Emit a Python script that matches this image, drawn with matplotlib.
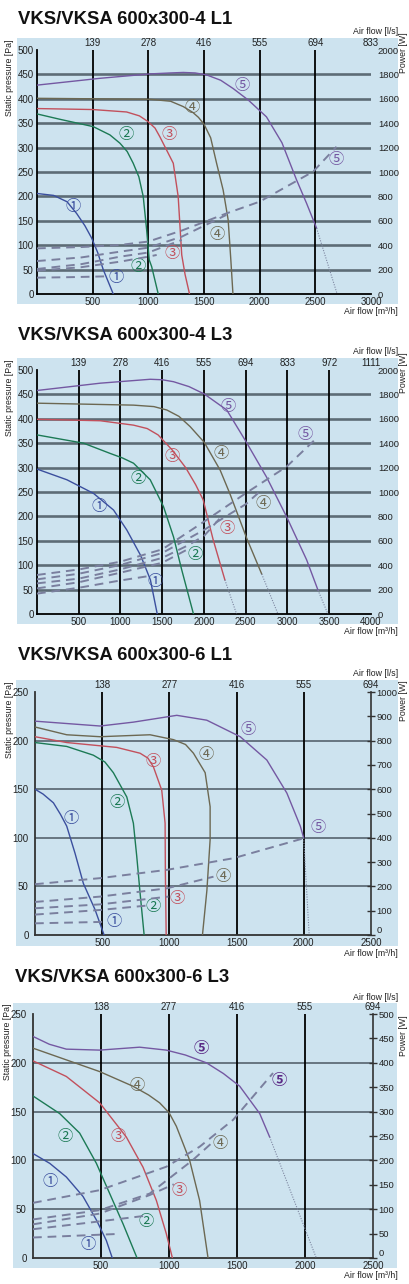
import matplotlib
matplotlib.use('Agg')
import matplotlib.pyplot as plt
from matplotlib.patches import Rectangle

plt.rcParams['font.family'] = ['Liberation Sans', 'Noto Sans CJK JP', 'DejaVu Sans']

W, H = 410, 1284
BG = '#cde3ef'
CURVE_COLORS = ['#3b4f9e', '#1c7a55', '#c2505c', '#6c6852', '#7458a2']
DASH_COLOR = '#7a7f9e'
MARKS = ['①', '②', '③', '④', '⑤']

# ---------------- VKS/VKSA 600x300-4 L1 ----------------
p1_title = 'VKS/VKSA 600x300-4 L1'
p1_q_ticks = [0, 500, 1000, 1500, 2000, 2500, 3000]
p1_ls_labels = ['139', '278', '416', '555', '694', '833']
p1_pa_ticks = list(range(0, 501, 50))
p1_w_ticks = list(range(0, 2001, 200))
p1_fan_q = [
    [0, 150, 270, 356, 430, 490, 545, 595, 685],
    [0, 206, 505, 655, 745, 810, 864, 915, 954, 985, 1008, 1030, 1089],
    [0, 500, 805, 920, 999, 1060, 1104, 1164, 1224, 1268, 1284, 1300, 1330, 1370],
    [0, 1014, 1200, 1314, 1400, 1450, 1500, 1560, 1613, 1672, 1717, 1741, 1760],
    [0, 566, 1014, 1200, 1314, 1420, 1523, 1650, 1762, 1900, 2061, 2200, 2331, 2421, 2511],
]
p1_fan_pa = [
    [206, 202, 189, 165, 140, 115, 85, 50, 0],
    [369, 358, 343, 326, 309, 292, 268, 240, 200, 131, 70, 56, 0],
    [380, 378, 373, 365, 353, 340, 322, 295, 268, 200, 140, 80, 40, 0],
    [401, 399, 395, 384, 372, 362, 348, 320, 268, 213, 152, 70, 0],
    [428, 442, 451, 453, 454, 453, 449, 438, 421, 397, 363, 310, 234, 186, 135],
]
p1_tail_q = [None, None, None, None, [2511, 2696]]
p1_tail_pa = [None, None, None, None, [135, 0]]
p1_pow_q = [
    [0, 300, 640],
    [0, 400, 745, 1000, 1075],
    [0, 400, 745, 1000, 1300],
    [0, 400, 745, 1000, 1300, 1700],
    [0, 400, 745, 1000, 1300, 1700, 2000, 2480, 2690],
]
p1_pow_w = [
    [134, 138, 145],
    [191, 220, 265, 306, 320],
    [205, 245, 306, 340, 443],
    [270, 300, 347, 380, 470, 648],
    [374, 385, 402, 430, 520, 660, 757, 1003, 1207],
]
p1_fan_marks = [(326, 179), (799, 327), (1188, 327), (1397, 382), (1846, 428)]
p1_pow_marks = [(715, 34), (904, 56), (1218, 82), (1619, 121), (2690, 275)]

# ---------------- VKS/VKSA 600x300-4 L3 ----------------
p2_title = 'VKS/VKSA 600x300-4 L3'
p2_q_ticks = [0, 500, 1000, 1500, 2000, 2500, 3000, 3500, 4000]
p2_ls_labels = ['139', '278', '416', '555', '694', '833', '972', '1111']
p2_pa_ticks = list(range(0, 501, 50))
p2_w_ticks = list(range(0, 2001, 200))
p2_fan_q = [
    [0, 359, 678, 917, 1076, 1238, 1300, 1358, 1440],
    [0, 558, 877, 1020, 1156, 1356, 1515, 1635, 1734, 1874],
    [0, 758, 1156, 1320, 1450, 1620, 1780, 1900, 1990, 2110, 2250],
    [0, 1156, 1400, 1555, 1700, 1834, 2002, 2193, 2309, 2512, 2691],
    [0, 758, 1356, 1500, 1635, 1820, 2002, 2273, 2504, 2751, 2990, 3229, 3365],
]
p2_fan_pa = [
    [297, 275, 247, 213, 172, 121, 95, 70, 0],
    [367, 350, 329, 320, 309, 275, 220, 158, 90, 0],
    [399, 396, 387, 380, 367, 336, 300, 265, 234, 152, 70],
    [432, 428, 425, 418, 405, 384, 352, 295, 247, 155, 82],
    [458, 473, 481, 480, 476, 466, 451, 418, 353, 280, 199, 111, 49],
]
p2_tail_q = [None, None, [2250, 2390], [2691, 2886], [3365, 3484]]
p2_tail_pa = [None, None, [70, 0], [82, 0], [49, 0]]
p2_pow_q = [
    [0, 500, 1000, 1330],
    [0, 500, 1000, 1500, 1790],
    [0, 500, 1000, 1500, 1800, 2000, 2190],
    [0, 500, 1000, 1500, 2000, 2500, 2667],
    [0, 500, 1000, 1500, 2000, 2500, 2990, 3346],
]
p2_pow_w = [
    [167, 215, 275, 310],
    [210, 260, 339, 420, 525],
    [251, 290, 366, 460, 560, 640, 784],
    [284, 330, 402, 500, 689, 900, 1003],
    [320, 365, 429, 530, 757, 990, 1208, 1440],
]
p2_fan_marks = [(738, 220), (1216, 277), (1615, 322), (2205, 329), (2285, 426)]
p2_pow_marks = [(1415, 66), (1894, 121), (2273, 176), (2703, 227), (3210, 367)]

# ---------------- VKS/VKSA 600x300-6 L1 ----------------
p3_title = 'VKS/VKSA 600x300-6 L1'
p3_q_ticks = [0, 500, 1000, 1500, 2000, 2500]
p3_ls_labels = ['138', '277', '416', '555', '694']
p3_pa_ticks = list(range(0, 251, 50))
p3_w_ticks = list(range(0, 1001, 100))
p3_fan_q = [
    [0, 60, 137, 190, 236, 298, 360, 447, 514],
    [0, 236, 434, 520, 583, 683, 732, 757, 782, 812],
    [0, 236, 608, 782, 840, 881, 943, 968, 970, 976],
    [0, 236, 484, 856, 1030, 1120, 1179, 1266, 1303, 1303, 1279, 1246],
    [0, 484, 732, 1055, 1278, 1527, 1725, 1874, 1974, 1999],
]
p3_fan_pa = [
    [150, 145, 136, 124, 112, 84, 53, 26, 0],
    [198, 194, 185, 178, 167, 142, 115, 81, 43, 0],
    [204, 198, 193, 187, 182, 173, 149, 115, 64, 0],
    [214, 206, 204, 206, 201, 196, 187, 167, 132, 98, 46, 0],
    [220, 215, 219, 226, 221, 204, 180, 146, 112, 100],
]
p3_tail_q = [None, None, None, None, [1999, 2040]]
p3_tail_pa = [None, None, None, None, [100, 0]]
p3_pow_q = [
    [0, 509],
    [0, 484, 832],
    [0, 484, 993],
    [0, 484, 981, 1328],
    [0, 484, 981, 1477, 1999],
]
p3_pow_w = [
    [48, 54],
    [84, 103, 121],
    [110, 126, 158],
    [136, 158, 192, 240],
    [209, 234, 268, 316, 398],
]
p3_fan_marks = [(266, 120), (608, 136), (876, 178), (1271, 186), (1589, 211)]
p3_pow_marks = [(588, 14), (881, 29), (1060, 38), (1398, 60), (2110, 111)]

# ---------------- VKS/VKSA 600x300-6 L3 ----------------
p4_title = 'VKS/VKSA 600x300-6 L3'
p4_q_ticks = [0, 500, 1000, 1500, 2000, 2500]
p4_ls_labels = ['138', '277', '416', '555', '694']
p4_pa_ticks = list(range(0, 251, 50))
p4_w_ticks = list(range(0, 501, 50))
p4_fan_q = [
    [0, 123, 245, 368, 466, 539, 583],
    [0, 196, 343, 466, 564, 662, 765],
    [0, 245, 490, 686, 809, 907, 980, 1025],
    [0, 245, 490, 735, 850, 931, 1000, 1054, 1152, 1225, 1287],
    [0, 120, 245, 490, 784, 980, 1120, 1275, 1400, 1520, 1667, 1740],
]
p4_fan_pa = [
    [107, 97, 83, 63, 39, 18, 0],
    [166, 148, 128, 97, 66, 35, 0],
    [202, 186, 159, 124, 93, 59, 25, 0],
    [215, 203, 191, 176, 167, 159, 149, 135, 100, 59, 0],
    [227, 219, 214, 213, 216, 213, 208, 200, 189, 176, 148, 124],
]
p4_tail_q = [None, None, None, None, [1740, 2083]]
p4_tail_pa = [None, None, None, None, [124, 0]]
p4_pow_q = [
    [0, 600],
    [0, 368, 811],
    [0, 490, 858, 1035],
    [0, 490, 858, 1176, 1324],
    [0, 490, 980, 1225, 1471, 1765],
]
p4_pow_w = [
    [42, 49],
    [59, 71, 86],
    [69, 91, 129, 151],
    [79, 98, 132, 201, 238],
    [113, 139, 187, 228, 283, 379],
]
p4_fan_marks = [(123, 78), (238, 124), (625, 124), (765, 177), (1238, 215)]
p4_pow_marks = [(404, 14), (833, 37), (1071, 69), (1373, 117), (1809, 182)]


fig = plt.figure(figsize=(W / 100, H / 100), dpi=100)


def ftext(x, y, s, **kw):
    '''text placed in figure pixels, measured from the top left'''
    fig.text(x / W, 1 - y / H, s, **kw)


def draw_panel(p):
    l, t, r, b = p['axes']
    x0, y0, x1, y1 = p['box']
    fig.patches.append(Rectangle((x0 / W, 1 - y1 / H), (x1 - x0) / W, (y1 - y0) / H,
                                 transform=fig.transFigure, facecolor=BG,
                                 edgecolor='none', zorder=-5))
    ax = fig.add_axes([l / W, 1 - b / H, (r - l) / W, (b - t) / H])
    ax.set_facecolor('none')
    qt, pt, wt = p['q_ticks'], p['pa_ticks'], p['w_ticks']
    ax.set_xlim(0, qt[-1])
    ax.set_ylim(0, pt[-1])
    thick = p['style'] == 'thick'

    for v in pt[1:-1]:
        ax.axhline(v, color='#5d6c76' if thick else '#4b5863',
                   lw=1.9 if thick else 1.1, zorder=1)
    for v in qt[1:-1]:
        ax.axvline(v, color='black', lw=1.3, zorder=1.5)

    for i in range(5):
        ax.plot(p['fan_q'][i], p['fan_pa'][i], color=CURVE_COLORS[i], lw=1.0, zorder=3)
        if p['tail_q'][i] is not None:
            ax.plot(p['tail_q'][i], p['tail_pa'][i], color='#7d86a0', lw=0.8,
                    ls=(0, (1, 1.3)), zorder=3)

    ax.set_xticks(qt[1:])
    ax.set_yticks(pt)
    ax.tick_params(axis='both', length=0, labelsize=7, colors='#222222')
    ax.tick_params(axis='x', pad=2.5)
    ax.tick_params(axis='y', pad=2.5 if thick else 4.5)
    for s in ('top', 'right'):
        ax.spines[s].set_visible(False)
    for s in ('left', 'bottom'):
        ax.spines[s].set_color('black' if thick else '#333333')
        ax.spines[s].set_linewidth(1.3)

    ax2 = ax.twinx()
    ax2.set_ylim(0, wt[-1])
    ax2.set_yticks(wt)
    for s in ('top', 'left', 'bottom'):
        ax2.spines[s].set_visible(False)
    if thick:
        ax2.spines['right'].set_visible(False)
        ax2.tick_params(axis='y', length=0, labelsize=6.8, pad=5, colors='#222222')
    else:
        ax2.spines['right'].set_color('#333333')
        ax2.spines['right'].set_linewidth(1.2)
        ax2.tick_params(axis='y', direction='inout', length=6, width=1.0,
                        labelsize=6.8, pad=1, colors='#333333', labelcolor='#222222')
        # the bottom "0" sits just above the last airflow label, as in the original
        ax2.get_yticklabels()[0].set_verticalalignment('bottom')
    for i in range(5):
        ax2.plot(p['pow_q'][i], p['pow_w'][i], color=DASH_COLOR, lw=1.4,
                 dashes=(4.5, 3), zorder=2)

    sec = ax.secondary_xaxis('top')
    sec.set_xticks(qt[1:], labels=p['ls_labels'])
    sec.tick_params(length=0, labelsize=7, pad=1.5, colors='#222222')
    sec.spines['top'].set_visible(False)

    for i in range(5):
        for pos in (p['fan_marks'][i], p['pow_marks'][i]):
            bold = p['bold5'] and i == 4
            ax.text(pos[0], pos[1], MARKS[i], ha='center', va='center',
                    fontsize=11, color='#5b2a86' if bold else CURVE_COLORS[i],
                    fontweight='bold' if bold else 'normal',
                    family=['Noto Sans CJK JP', 'DejaVu Sans'], zorder=4)

    # titles and axis names
    ftext(p['title_x'], p['title_y'], p['title'], fontsize=13.3, fontweight='bold',
          va='center', ha='left', color='#111111')
    ftext(p['sp_x'], p['sp_top'], 'Static pressure [Pa]', rotation=90, fontsize=6.3,
          va='top', ha='center', color='#222222')
    ftext(404, p['pw_top'], 'Power [W]', rotation=90, fontsize=6.3,
          va='top', ha='center', color='#222222')
    ftext(398, p['ls_y'], 'Air flow [l/s]', fontsize=6.3, ha='right', va='center',
          color='#222222')
    ftext(398, p['mh_y'], 'Air flow [m³/h]', fontsize=6.3, ha='right', va='center',
          color='#222222')


panels = [
    dict(title=p1_title, q_ticks=p1_q_ticks, ls_labels=p1_ls_labels, pa_ticks=p1_pa_ticks,
         w_ticks=p1_w_ticks, fan_q=p1_fan_q, fan_pa=p1_fan_pa, tail_q=p1_tail_q,
         tail_pa=p1_tail_pa, pow_q=p1_pow_q, pow_w=p1_pow_w, fan_marks=p1_fan_marks,
         pow_marks=p1_pow_marks, style='thick', bold5=False,
         axes=(37, 50, 371, 294), box=(17, 38, 398, 304), title_x=18, title_y=20,
         sp_x=10, sp_top=40, pw_top=32, ls_y=32, mh_y=311),
    dict(title=p2_title, q_ticks=p2_q_ticks, ls_labels=p2_ls_labels, pa_ticks=p2_pa_ticks,
         w_ticks=p2_w_ticks, fan_q=p2_fan_q, fan_pa=p2_fan_pa, tail_q=p2_tail_q,
         tail_pa=p2_tail_pa, pow_q=p2_pow_q, pow_w=p2_pow_w, fan_marks=p2_fan_marks,
         pow_marks=p2_pow_marks, style='thick', bold5=False,
         axes=(37, 370, 371, 614), box=(17, 358, 398, 624), title_x=18, title_y=335,
         sp_x=10, sp_top=360, pw_top=352, ls_y=352, mh_y=631),
    dict(title=p3_title, q_ticks=p3_q_ticks, ls_labels=p3_ls_labels, pa_ticks=p3_pa_ticks,
         w_ticks=p3_w_ticks, fan_q=p3_fan_q, fan_pa=p3_fan_pa, tail_q=p3_tail_q,
         tail_pa=p3_tail_pa, pow_q=p3_pow_q, pow_w=p3_pow_w, fan_marks=p3_fan_marks,
         pow_marks=p3_pow_marks, style='thin', bold5=False,
         axes=(35, 692, 371, 935), box=(16, 680, 398, 946), title_x=18, title_y=655,
         sp_x=10, sp_top=682, pw_top=680, ls_y=673, mh_y=953),
    dict(title=p4_title, q_ticks=p4_q_ticks, ls_labels=p4_ls_labels, pa_ticks=p4_pa_ticks,
         w_ticks=p4_w_ticks, fan_q=p4_fan_q, fan_pa=p4_fan_pa, tail_q=p4_tail_q,
         tail_pa=p4_tail_pa, pow_q=p4_pow_q, pow_w=p4_pow_w, fan_marks=p4_fan_marks,
         pow_marks=p4_pow_marks, style='thin', bold5=True,
         axes=(33, 1014, 373, 1258), box=(13, 1003, 397, 1268), title_x=15, title_y=978,
         sp_x=8, sp_top=1004, pw_top=1015, ls_y=997, mh_y=1275),
]

for p in panels:
    draw_panel(p)

fig.savefig('out.png', dpi=100)
